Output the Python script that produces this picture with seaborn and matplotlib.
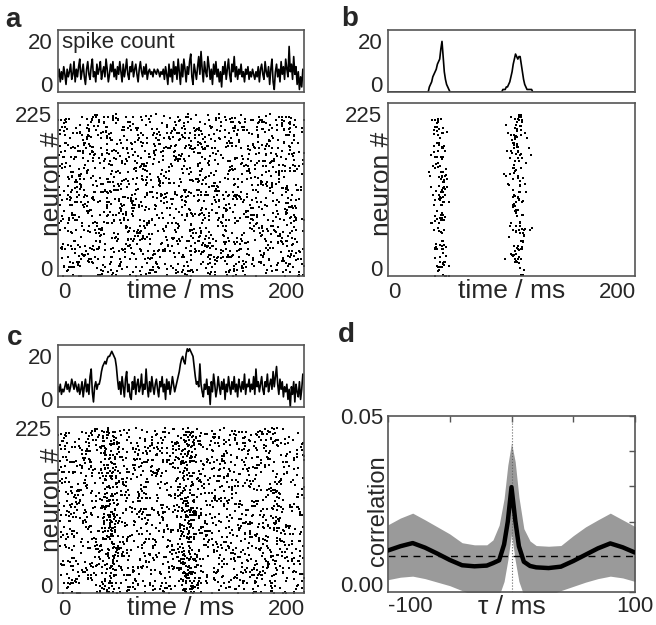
import numpy as np
import seaborn as sns
import matplotlib.pyplot as plt

#---------------------
# spike counts per 1 ms bin (0 .. 214 ms)

time_ticks = [0, 200]
neuron_ticks = [0, 225]
n_neurons = 226

counts_a = [
    6, 9, 4, 8, 5, 10, 7, 3, 9, 6,
    8, 11, 5, 7, 12, 4, 9, 6, 10, 13,
    5, 8, 11, 6, 3, 9, 12, 7, 5, 10,
    13, 6, 8, 4, 11, 7, 9, 12, 5, 8,
    10, 6, 13, 9, 4, 7, 11, 8, 12, 6,
    9, 5, 10, 7, 12, 8, 4, 11, 6, 9,
    13, 7, 5, 10, 8, 12, 6, 9, 11, 7,
    4, 9, 12, 8, 6, 10, 7, 11, 5, 8,
    9, 7, 8, 6, 9, 8, 7, 9, 8, 6,
    8, 7, 9, 5, 10, 7, 3, 11, 6, 9,
    4, 12, 7, 10, 5, 13, 8, 3, 11, 6,
    13, 9, 4, 10, 7, 12, 15, 6, 3, 11,
    8, 5, 10, 14, 7, 16, 9, 4, 12, 8,
    6, 14, 10, 5, 9, 3, 11, 7, 12, 6,
    9, 4, 8, 2, 10, 7, 12, 5, 9, 13,
    7, 4, 11, 8, 14, 6, 10, 5, 9, 7,
    11, 6, 8, 4, 9, 7, 10, 5, 8, 6,
    9, 7, 5, 8, 6, 10, 4, 9, 11, 7,
    5, 12, 8, 6, 10, 3, 9, 13, 4, 1,
    8, 11, 6, 9, 4, 12, 7, 10, 5, 13,
    9, 6, 18, 8, 11, 5, 14, 7, 10, 3,
    8, 1, 6, 2, 9,
]

# panel b: only two synchronous events, zero elsewhere
event_onsets_b = [36, 100]
event_counts_b = [
    [2, 3, 4, 6, 7, 8, 9, 11, 12, 13, 17, 20, 14, 8, 5, 3, 2, 1],
    [1, 1, 1, 2, 2, 3, 4, 6, 8, 11, 13, 15, 14, 13, 14, 14, 11, 8, 5, 3, 2, 1, 1, 1, 1, 1],
]

counts_c = [
    8, 6, 9, 5, 7, 6, 8, 10, 7, 9,
    6, 8, 11, 9, 7, 10, 8, 6, 9, 5,
    7, 10, 4, 8, 11, 6, 9, 5, 12, 15,
    6, 2, 8, 10, 7, 9,
    9, 11, 14, 16, 17, 18, 17, 19, 20, 20, 21, 22, 21, 20, 19, 16, 11, 7,
    10, 5, 12, 8, 4, 11,
    14, 6, 9, 4, 3, 10, 7, 12, 5, 9,
    11, 6, 8, 13, 5, 9, 7, 15, 8, 4,
    10, 6, 12, 8, 5, 9, 11, 7, 4, 10,
    8, 12, 6, 9, 3, 11, 7, 10, 5, 8,
    12, 9, 6,
    8, 10, 12, 14, 17, 19, 20, 18, 17, 21, 23, 22, 23, 22, 21, 20, 16, 12, 9, 10, 8, 17, 9, 6,
    4, 9, 7,
    11, 5, 8, 1, 10, 6, 13, 9, 4, 7,
    12, 8, 5, 10, 7, 11, 3, 9, 6, 12,
    8, 5, 10, 7, 12, 6, 9, 4, 11, 8,
    6, 10, 7, 13, 5, 9, 8, 11, 6, 9,
    7, 12, 5, 15, 8, 10, 6, 9, 12, 7,
    5, 10, 8, 13, 6, 9, 11, 7, 14, 8,
    12, 16, 9, 5, 11, 7, 10, 4, 8, 6,
    9, 3, 7, 0, 8, 5, 10, 2, 9, 6,
    4, 10, 3, 7, 13,
]

# panel d: correlation vs lag
tau_ms = [-100, -90, -80, -70, -60, -50, -40, -30, -20, -15, -10, -6, -3, 0,
          3, 6, 10, 15, 20, 30, 40, 50, 60, 70, 80, 90, 100]
corr_mean = [0.0118, 0.0130, 0.0139, 0.0126, 0.0109, 0.0091, 0.0076, 0.0073, 0.0075, 0.0082,
             0.0090, 0.0135, 0.0200, 0.0298,
             0.0205, 0.0130, 0.0086, 0.0074, 0.0070, 0.0068, 0.0072, 0.0088, 0.0106, 0.0124,
             0.0138, 0.0127, 0.0112]
corr_upper = [0.0191, 0.0210, 0.0224, 0.0205, 0.0185, 0.0165, 0.0140, 0.0134, 0.0134, 0.0148,
              0.0190, 0.0265, 0.0360, 0.0424,
              0.0370, 0.0270, 0.0180, 0.0145, 0.0132, 0.0130, 0.0132, 0.0160, 0.0185, 0.0205,
              0.0224, 0.0205, 0.0186]
corr_lower = [0.0035, 0.0042, 0.0045, 0.0038, 0.0028, 0.0018, 0.0004, -0.001, -0.001, -0.001,
              -0.001, 0.0030, 0.0090, 0.0165,
              0.0090, 0.0030, -0.001, -0.001, -0.001, -0.001, 0.0004, 0.0016, 0.0028, 0.0038,
              0.0045, 0.0040, 0.0030]
corr_chance = 0.0103

#---------------------

sns.set_style('white')
plt.rcParams['font.family'] = ['Liberation Sans', 'DejaVu Sans']

counts_b = np.zeros(len(counts_a), dtype=int)
for onset, ev in zip(event_onsets_b, event_counts_b):
    counts_b[onset:onset + len(ev)] = ev

fig = plt.figure(figsize=(6.56, 6.25), dpi=100)


def px_axes(x0, y0, x1, y1):
    return fig.add_axes([x0 / 656, 1 - y1 / 625, (x1 - x0) / 656, (y1 - y0) / 625])


def frame(ax):
    for sp in ax.spines.values():
        sp.set_visible(True)
        sp.set_color('#555555')
        sp.set_linewidth(1.2)


def scramble(k, salt):
    # integer hash, used only to spread counted spikes over neuron rows
    h = (k * 2654435761 + salt * 40503) & 0xFFFFFFFF
    h ^= h >> 16
    h = (h * 0x45D9F3B) & 0xFFFFFFFF
    h ^= h >> 16
    return h


def spike_raster(counts):
    # one dot per counted spike in each 1 ms bin
    times, ids = [], []
    k = 0
    for t, n in enumerate(counts):
        for _ in range(int(n)):
            times.append(t + (scramble(k, 7) % 1000) / 1000)
            ids.append(scramble(k, 1) % n_neurons)
            k += 1
    return np.array(times), np.array(ids)


def draw_count(ax, counts):
    sns.lineplot(x=np.arange(len(counts)), y=counts, ax=ax, color='black', linewidth=1.2)
    ax.set_xlim(0, 215)
    ax.set_ylim(0, 24.5)
    ax.set_xticks([])
    ax.set_yticks([0, 20], labels=['0', '20'])
    ax.get_yticklabels()[0].set_va('baseline')
    ax.tick_params(axis='y', length=0, pad=4, labelsize=16)
    ax.set_xlabel('')
    ax.set_ylabel('')
    frame(ax)


def draw_raster(ax, counts):
    t, ids = spike_raster(counts)
    sns.scatterplot(x=t, y=ids, ax=ax, color='black', marker='s', s=3.5, linewidth=0)
    ax.set_xlim(0, 215)
    ax.set_ylim(0, 240)
    ax.set_xticks(time_ticks, labels=[str(v) for v in time_ticks])
    ax.set_yticks(neuron_ticks, labels=[str(v) for v in neuron_ticks])
    ax.get_xticklabels()[0].set_ha('left')
    ax.get_yticklabels()[0].set_va('baseline')
    ax.tick_params(length=0, pad=4, labelsize=16)
    ax.set_xlabel('time / ms', fontsize=19)
    ax.xaxis.set_label_coords(0.5, -0.015)
    ax.set_ylabel('neuron #', fontsize=19)
    ax.yaxis.set_label_coords(0.024, 0.53)
    frame(ax)


ax_a1 = px_axes(58, 30, 304, 92)
ax_a2 = px_axes(58, 103, 304, 276)
ax_b1 = px_axes(388, 30, 635, 92)
ax_b2 = px_axes(388, 103, 635, 276)
ax_c1 = px_axes(58, 345, 304, 407)
ax_c2 = px_axes(58, 417, 304, 593)
ax_d = px_axes(388, 416, 635, 592)

draw_count(ax_a1, counts_a)
ax_a1.text(0.015, 0.97, 'spike count', transform=ax_a1.transAxes, fontsize=16, va='top', ha='left')
draw_raster(ax_a2, counts_a)

draw_count(ax_b1, counts_b)
draw_raster(ax_b2, counts_b)

draw_count(ax_c1, counts_c)
draw_raster(ax_c2, counts_c)

# panel d
ax_d.fill_between(tau_ms, corr_lower, corr_upper, color='#9a9a9a', linewidth=0, zorder=1)
ax_d.axhline(corr_chance, color='black', linestyle=(0, (5, 4)), linewidth=1.0, zorder=2)
ax_d.axvline(0, color='#666666', linestyle=':', linewidth=0.8, zorder=2)
sns.lineplot(x=tau_ms, y=corr_mean, ax=ax_d, color='black', linewidth=3.2, zorder=3)
ax_d.set_xlim(-100, 100)
ax_d.set_ylim(0, 0.05)
ax_d.set_xticks([-100, -50, 0, 50, 100], labels=['-100', '', '', '', '100'])
ax_d.set_yticks([0, 0.01, 0.02, 0.03, 0.04, 0.05], labels=['0.00', '', '', '', '', '0.05'])
ax_d.get_xticklabels()[0].set_ha('left')
ax_d.get_yticklabels()[0].set_va('baseline')
ax_d.tick_params(direction='in', length=4, width=1, top=True, right=True, labelsize=16, pad=3,
                 color='#555555')
ax_d.set_xlabel('τ / ms', fontsize=19)
ax_d.xaxis.set_label_coords(0.5, -0.015)
ax_d.set_ylabel('correlation', fontsize=17)
ax_d.yaxis.set_label_coords(0.004, 0.46)
frame(ax_d)

# panel letters
for x, y, s in [(0.008, 0.957, 'a'), (0.52, 0.958, 'b'), (0.01, 0.448, 'c'), (0.515, 0.453, 'd')]:
    fig.text(x, y, s, fontsize=20, fontweight='bold', va='baseline')

fig.savefig('out.png', dpi=100)
